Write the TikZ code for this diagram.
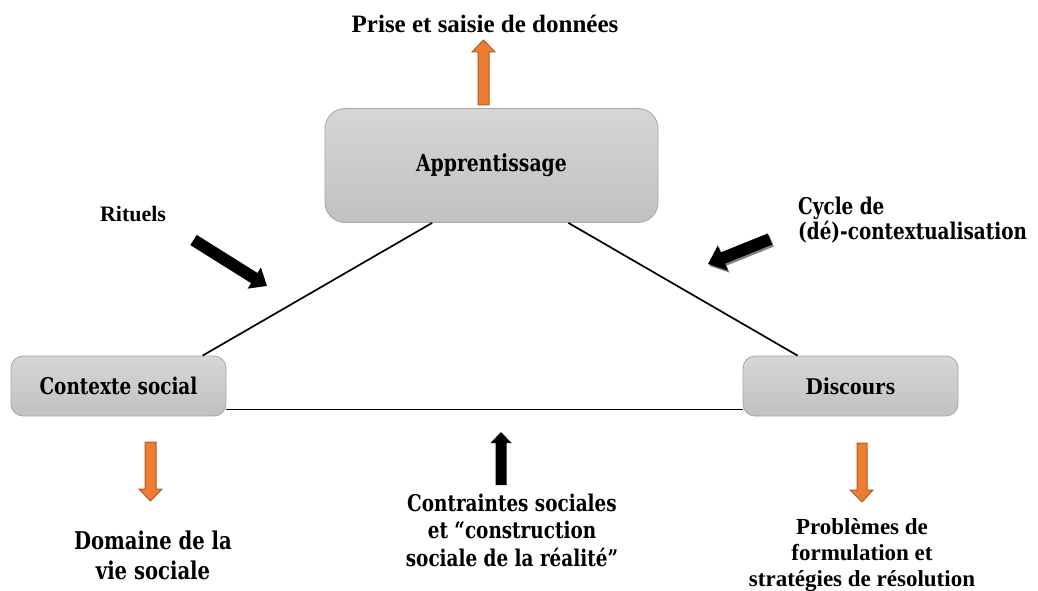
\documentclass[tikz,border=0pt]{standalone}
\usepackage{fontspec}
\newfontfamily\timesfont{Liberation Serif}
\newfontfamily\cambriafont[FakeStretch=0.8,Ligatures=TeX]{DejaVu Serif}
\usetikzlibrary{arrows.meta,positioning}

\definecolor{boxtop}{RGB}{214,214,214}
\definecolor{boxbottom}{RGB}{193,193,193}
\definecolor{boxedge}{RGB}{168,168,168}
\definecolor{orangefill}{RGB}{237,125,49}
\definecolor{orangeedge}{RGB}{176,92,36}

\tikzset{
  conceptbox/.style={draw=boxedge, line width=0.8pt, rounded corners=12pt,
    top color=boxtop, bottom color=boxbottom, inner sep=0pt,
    minimum width=215pt, minimum height=60pt},
  lmtext/.style={font=\cambriafont\bfseries\fontsize{23}{27.5}\selectfont, align=center, inner sep=0pt},
  timestext/.style={font=\timesfont\bfseries\fontsize{24}{26}\selectfont, align=center, inner sep=0pt},
  edge/.style={line width=1.7pt},
  orangearrow/.style={fill=orangefill, draw=orangeedge, line width=1pt, line join=miter},
  blackarrow/.style={line width=12pt, -{Triangle[length=15pt,width=24pt]}},
}

\begin{document}
\begin{tikzpicture}[x=1pt,y=-1pt]
\useasboundingbox (0,0) rectangle (1038,591);

% les trois pôles
\node[conceptbox, minimum width=333pt, minimum height=114pt, rounded corners=20pt,
  font=\cambriafont\bfseries\fontsize{23.5}{26}\selectfont] (appr) at (491.5,165.5) {Apprentissage};
\node[conceptbox, font=\cambriafont\bfseries\fontsize{23}{26}\selectfont] (ctx) at (118.5,386) {Contexte social};
\node[conceptbox, font=\timesfont\bfseries\fontsize{24}{26}\selectfont] (disc) at (850.5,386) {Discours};

% le triangle
\draw[edge] ([xshift=107.5pt]appr.south west) -- ([xshift=192pt]ctx.north west);
\draw[edge] ([xshift=-90pt]appr.south east) -- ([xshift=55pt]disc.north west);
\draw[edge] ([yshift=7pt]ctx.south east) -- ([yshift=7pt]disc.south west);

% textes
\node[timestext, font=\timesfont\bfseries\fontsize{25}{27}\selectfont] (prise) at (485,24) {Prise et saisie de données};
\node[timestext, font=\timesfont\bfseries\fontsize{22}{24}\selectfont] (rituels) at (133,214) {Rituels};
\node[lmtext, align=left, font=\cambriafont\bfseries\fontsize{23}{25}\selectfont, anchor=west] (cycle) at (798,220) {Cycle de\\(dé)-contextualisation};
\node[lmtext, font=\cambriafont\bfseries\fontsize{24.5}{30}\selectfont] (domaine) at (153,555) {Domaine de la\\vie sociale};
\node[lmtext] (contraintes) at (512,530) {Contraintes sociales\\et “construction\\sociale de la réalité”};
\node[timestext, font=\timesfont\bfseries\fontsize{23}{26}\selectfont] (problemes) at (862,555) {Problèmes de\\formulation et\\stratégies de résolution};

% flèches orange
\draw[orangearrow] (478,105) -- (478,52) -- (472,52) -- (483.5,40) -- (495,52) -- (489,52) -- (489,105) -- cycle;
\draw[orangearrow] (145,442) -- (145,489) -- (139,489) -- (150.5,501) -- (162,489) -- (156,489) -- (156,442) -- cycle;
\draw[orangearrow] (857,443) -- (857,490) -- (850,490) -- (862,502) -- (873,490) -- (867,490) -- (867,443) -- cycle;

% flèches noires
\fill (495.5,485) -- (495.5,443) -- (490.5,443) -- (501,432) -- (511.5,443) -- (506.5,443) -- (506.5,485) -- cycle;

\coordinate (ritA) at (193.5,240);
\coordinate (ritB) at (267,286);
\draw[blackarrow] (ritA) -- (ritB);

\coordinate (cycA) at (770,239);
\coordinate (cycB) at (708,264);
\draw[blackarrow, gray, -{Triangle[length=16pt,width=26pt]}] ([shift={(1.5pt,-2pt)}]cycA) -- ([shift={(1.5pt,-2pt)}]cycB);
\draw[blackarrow, -{Triangle[length=16pt,width=26pt]}] (cycA) -- (cycB);
\end{tikzpicture}
\end{document}
